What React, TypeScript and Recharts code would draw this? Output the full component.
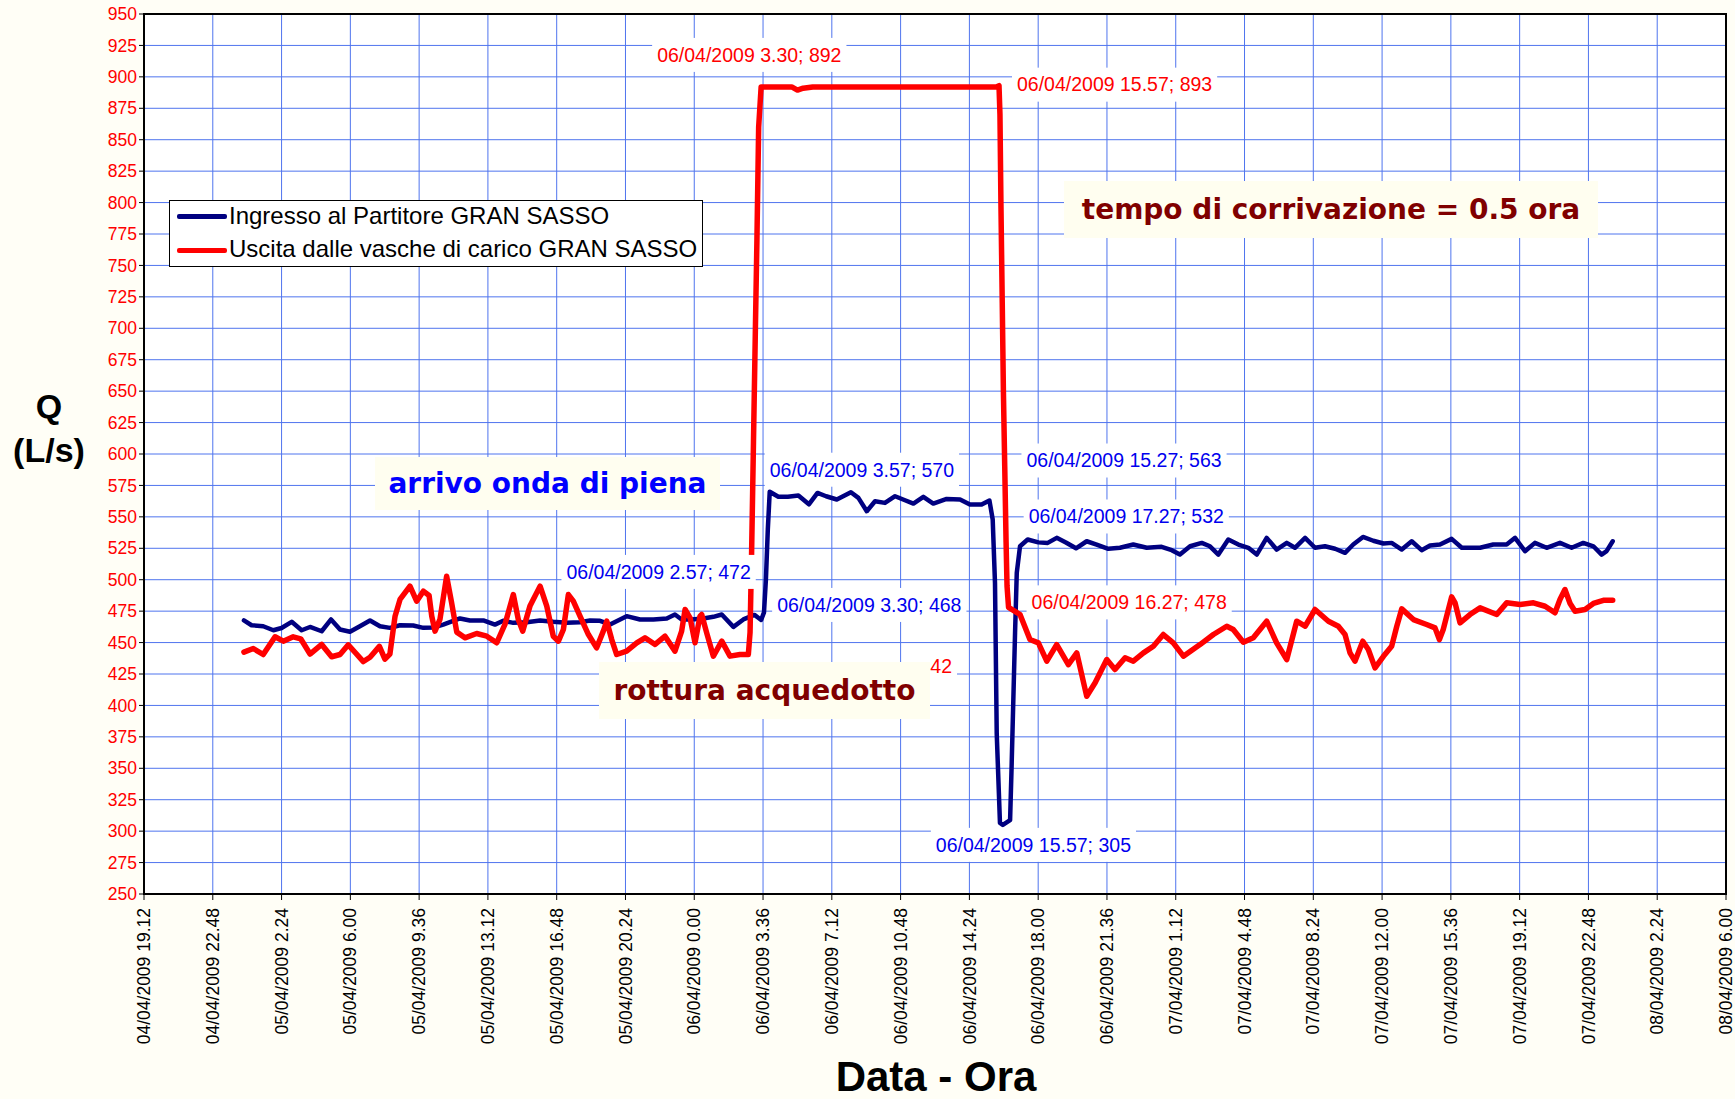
import React from 'react';
import { LineChart, Line, XAxis, YAxis, CartesianGrid, ReferenceDot, ReferenceArea } from 'recharts';

// hours elapsed since 04/04/2009 19.12
const xTickHours = [0, 3.6, 7.2, 10.8, 14.4, 18, 21.6, 25.2, 28.8, 32.4, 36, 39.6, 43.2, 46.8, 50.4, 54, 57.6, 61.2, 64.8, 68.4, 72, 75.6, 79.2, 82.8];
const xTickLabels = [
  '04/04/2009 19.12', '04/04/2009 22.48', '05/04/2009 2.24', '05/04/2009 6.00', '05/04/2009 9.36',
  '05/04/2009 13.12', '05/04/2009 16.48', '05/04/2009 20.24', '06/04/2009 0.00', '06/04/2009 3.36',
  '06/04/2009 7.12', '06/04/2009 10.48', '06/04/2009 14.24', '06/04/2009 18.00', '06/04/2009 21.36',
  '07/04/2009 1.12', '07/04/2009 4.48', '07/04/2009 8.24', '07/04/2009 12.00', '07/04/2009 15.36',
  '07/04/2009 19.12', '07/04/2009 22.48', '08/04/2009 2.24', '08/04/2009 6.00',
];
const yTicks = [250, 275, 300, 325, 350, 375, 400, 425, 450, 475, 500, 525, 550, 575, 600, 625, 650, 675, 700, 725, 750, 775, 800, 825, 850, 875, 900, 925, 950];

// Ingresso al Partitore GRAN SASSO
const blueHours = [5.23, 5.63, 6.24, 6.77, 7.2, 7.73, 8.25, 8.69, 9.3, 9.79, 10.26, 10.78, 11.3, 11.83, 12.35, 12.87, 13.4, 14.09, 14.62, 15.14, 15.66, 16.01, 16.54, 17.06, 17.76, 18.37, 18.8, 19.33, 20.03, 20.73, 21.42, 22.12, 22.82, 23.34, 23.87, 24.39, 25.26, 25.96, 26.66, 27.36, 27.79, 28.14, 28.66, 29.27, 29.8, 30.24, 30.85, 31.37, 31.95, 32.15, 32.3, 32.45, 32.55, 32.65, 32.75, 33.2, 33.7, 34.25, 34.8, 35.25, 35.7, 36.26, 37.0, 37.39, 37.83, 38.26, 38.78, 39.31, 39.83, 40.27, 40.79, 41.31, 42.01, 42.71, 43.23, 43.84, 44.25, 44.42, 44.54, 44.63, 44.8, 44.95, 45.33, 45.41, 45.5, 45.59, 45.68, 45.85, 46.25, 46.81, 47.3, 47.77, 48.25, 48.78, 49.34, 49.86, 50.47, 51.08, 51.78, 52.48, 53.26, 53.79, 54.22, 54.75, 55.36, 55.79, 56.23, 56.75, 57.28, 57.8, 58.24, 58.76, 59.28, 59.81, 60.24, 60.77, 61.29, 61.81, 62.34, 62.86, 63.29, 63.8, 64.34, 64.87, 65.3, 65.83, 66.35, 66.87, 67.31, 67.83, 68.44, 68.97, 69.4, 69.93, 70.62, 71.32, 71.76, 72.28, 72.8, 73.41, 74.11, 74.72, 75.33, 75.86, 76.29, 76.55, 76.87];
const blueFlow = [467.6, 463.8, 463, 459.8, 461.6, 466.5, 459.8, 462.4, 459, 468.4, 460.4, 458.6, 463, 467.6, 463, 461.7, 463.8, 463.6, 461.7, 462, 464.3, 466.2, 469.2, 467.6, 467.6, 464.3, 467.3, 465.7, 466.2, 467.6, 466.5, 465.7, 466.2, 467.6, 467.3, 464.4, 471, 468.4, 468.4, 469.2, 472.3, 468.4, 468.4, 469.2, 470.5, 472.3, 462.5, 468.4, 472, 469.7, 468, 474, 500, 540, 570, 566, 566, 567, 560, 569, 566.4, 563.8, 569.6, 565.1, 554.5, 562.4, 561.1, 566.4, 563.2, 560.6, 565.9, 560.6, 564.3, 563.8, 559.8, 559.8, 563, 547.9, 497.5, 378, 306.6, 305, 308.7, 351.6, 404.7, 457.8, 505.5, 526.6, 532, 529.7, 529.3, 533.3, 529.6, 525, 530.6, 528, 524.6, 525.4, 528, 525.4, 526.2, 523.5, 520, 526.6, 529.3, 526.6, 520, 532, 528, 525.4, 520, 533.3, 524, 529.3, 525.4, 533.3, 525.4, 526.6, 524.6, 521.4, 528, 534, 531, 528.8, 529.3, 524, 530.6, 523.5, 527.2, 528, 532.5, 525.4, 525.4, 525.4, 528, 528, 533.3, 522.7, 529.3, 525.4, 529.3, 525.4, 529.3, 526.6, 520, 522.7, 530.6];

// Uscita dalle vasche di carico GRAN SASSO
const redHours = [5.23, 5.72, 6.24, 6.86, 7.29, 7.81, 8.2, 8.69, 9.3, 9.82, 10.26, 10.69, 11.04, 11.48, 11.83, 12.32, 12.61, 12.87, 13.14, 13.4, 13.92, 14.27, 14.62, 14.92, 15.06, 15.23, 15.49, 15.84, 16.1, 16.37, 16.8, 17.41, 17.94, 18.46, 18.89, 19.33, 19.59, 19.82, 20.2, 20.73, 21.08, 21.42, 21.69, 21.95, 22.21, 22.47, 22.82, 23.26, 23.69, 24.04, 24.22, 24.48, 24.74, 25.26, 25.79, 26.22, 26.75, 27.27, 27.79, 28.14, 28.32, 28.58, 28.84, 29.1, 29.19, 29.45, 29.8, 30.24, 30.67, 31.19, 31.63, 31.72, 31.8, 31.9, 32.0, 32.08, 32.17, 32.3, 33.0, 33.9, 34.2, 34.5, 35.0, 37.0, 40.0, 43.0, 44.6, 44.75, 44.8, 44.85, 44.92, 44.98, 45.05, 45.12, 45.17, 45.25, 45.85, 46.37, 46.81, 47.25, 47.77, 48.38, 48.82, 49.34, 49.78, 50.39, 50.82, 51.35, 51.78, 52.31, 52.83, 53.35, 53.87, 54.4, 55.27, 55.97, 56.67, 57.01, 57.54, 58.06, 58.76, 59.28, 59.81, 60.33, 60.77, 61.29, 61.99, 62.51, 62.86, 63.12, 63.38, 63.79, 64.08, 64.43, 64.87, 65.3, 65.57, 65.83, 66.44, 67.13, 67.57, 67.8, 68.0, 68.44, 68.62, 68.88, 69.4, 69.93, 70.8, 71.32, 72.02, 72.72, 73.33, 73.85, 74.11, 74.37, 74.64, 74.9, 75.42, 75.86, 76.38, 76.87];
const redFlow = [442.4, 445.3, 440.5, 454.6, 451.1, 454.6, 453, 440.9, 448.5, 438.7, 440.5, 448.2, 442.3, 434.9, 438.3, 447, 436.8, 440.8, 471, 484.3, 494.9, 482.9, 490.9, 487.5, 471, 459.1, 468.4, 502.8, 481.6, 458.3, 453.8, 457.2, 455.1, 449.8, 464.4, 488.2, 468.4, 459.1, 479, 494.9, 479, 455.1, 451.1, 460.4, 488.2, 482.9, 471, 456.4, 445.8, 459.1, 467, 452.4, 440.5, 443.2, 449.8, 453.8, 448.5, 455.1, 443.2, 459.1, 476.3, 469.7, 449.8, 471, 472.3, 457.7, 439.2, 451.1, 439.2, 440.5, 440.5, 458, 520, 610, 700, 770, 860, 892, 892, 892, 889.5, 891, 892, 892, 892, 892, 892, 893, 870, 800, 720, 650, 590, 530, 495, 478, 472.3, 452.4, 449.8, 435.2, 448.4, 432.5, 441.8, 407.3, 418, 436.5, 428.6, 437.9, 435.2, 441.8, 447.1, 456.4, 449.8, 439.2, 448.4, 456.4, 463, 460.4, 450.3, 453.8, 467, 449.8, 436.5, 467, 463, 476.3, 467, 463, 456.4, 441.8, 435.2, 451.1, 444.5, 429.9, 439.1, 447, 463, 476.8, 468.3, 464.4, 461.7, 452.4, 460.4, 486.4, 481.6, 465.7, 472.3, 477.6, 472.3, 481.6, 480.3, 481.6, 478.9, 473.7, 484.2, 492.2, 481.1, 474.9, 476.3, 481.1, 483.6, 483.6];

// data labels: which point they belong to (the last one is mostly hidden in the original, only "42" shows)
const labelHours = [32.3, 44.75, 32.75, 44.25, 46.25, 31.95, 32.3, 45.25, 44.95, 31.63];
const labelFlow = [892, 893, 570, 563, 532, 472, 468, 478, 305, 440.5];
const labelTexts = [
  '06/04/2009 3.30; 892', '06/04/2009 15.57; 893', '06/04/2009 3.57; 570', '06/04/2009 15.27; 563',
  '06/04/2009 17.27; 532', '06/04/2009 2.57; 472', '06/04/2009 3.30; 468', '06/04/2009 16.27; 478',
  '06/04/2009 15.57; 305', '42',
];
const labelSeries = ['red', 'red', 'blue', 'blue', 'blue', 'blue', 'blue', 'red', 'blue', 'red'];

// layout of the labels (pixel offsets from their point)
const labelOffsets: [number, number][] = [
  [-104, -32], [18, -1], [0, -22], [37, -40], [1, -23], [-188, -43], [16, -15], [23, -5], [-67, 20], [182, 12],
];

const FONT = "'Liberation Sans', Arial, Helvetica, sans-serif";
const COMIC = "'Comic Sans MS', 'DejaVu Sans', sans-serif";
const LABEL_SIZE = 19.5;
const BLUE = '#000080';
const RED = '#FF0000';

const blueData = blueHours.map((h, i) => ({ h, q: blueFlow[i] }));
const redData = redHours.map((h, i) => ({ h, q: redFlow[i] }));

const charW = (c: string) => {
  if ('0123456789'.includes(c)) return 0.556;
  if ('/ .;:,'.includes(c)) return 0.278;
  return 0.556;
};
const textWidth = (s: string, size: number) => s.split('').reduce((a, c) => a + charW(c), 0) * size;

const XTick = (props: any) => {
  const { x, y, payload } = props;
  const idx = xTickHours.findIndex((t) => Math.abs(t - payload.value) < 1e-6);
  const label = idx >= 0 ? xTickLabels[idx] : '';
  return (
    <g transform={`translate(${x},${y})`}>
      <text transform="rotate(-90)" x={-6} y={0} dy="0.35em" textAnchor="end" fill="#000" fontSize={17.5} fontFamily={FONT}>
        {label}
      </text>
    </g>
  );
};

const makeLabelShape = (text: string, color: string, ox: number, oy: number) => (props: any) => {
  const { cx, cy } = props;
  if (cx == null || cy == null) return <g />;
  const w = textWidth(text, LABEL_SIZE);
  const left = cx + ox;
  const mid = cy + oy;
  return (
    <g>
      <rect x={left - 5} y={mid - 17} width={w + 10} height={34} fill="#ffffff" />
      <text x={left} y={mid} dy="0.35em" fill={color} fontSize={LABEL_SIZE} fontFamily={FONT}>
        {text}
      </text>
    </g>
  );
};

const boxStyle = (left: number, top: number, width: number, height: number, color: string): React.CSSProperties => ({
  position: 'absolute', left, top, width, height, background: '#FFFEF0', color,
  fontFamily: COMIC, fontWeight: 'bold', fontSize: 28, display: 'flex', alignItems: 'center', justifyContent: 'center',
  whiteSpace: 'nowrap',
});

export default function App() {
  return (
    <div style={{ position: 'absolute', left: 0, top: 0, width: 1735, height: 1099, background: '#FFFEF6', overflow: 'hidden' }}>
      <LineChart width={1735} height={1099} margin={{ top: 14, right: 9, bottom: 0, left: 0 }}>
        <CartesianGrid stroke="#4F74EE" strokeWidth={1} fill="#ffffff" />
        <XAxis
          type="number" dataKey="h" domain={[0, 82.8]} ticks={xTickHours} interval={0} allowDataOverflow
          height={205} tickSize={6} tick={<XTick />} axisLine={{ stroke: '#000', strokeWidth: 2 }} tickLine={{ stroke: '#000' }}
        />
        <YAxis
          type="number" dataKey="q" domain={[250, 950]} ticks={yTicks} interval={0} allowDataOverflow width={144}
          tickSize={5} tickMargin={2} tick={{ fill: RED, fontSize: 17.5, fontFamily: FONT }}
          axisLine={{ stroke: '#000', strokeWidth: 2 }} tickLine={{ stroke: '#000' }}
        />
        <Line data={blueData} dataKey="q" type="linear" stroke={BLUE} strokeWidth={4.5} dot={false} activeDot={false}
          isAnimationActive={false} strokeLinejoin="round" strokeLinecap="round" />
        <Line data={redData} dataKey="q" type="linear" stroke={RED} strokeWidth={5.5} dot={false} activeDot={false}
          isAnimationActive={false} strokeLinejoin="round" strokeLinecap="round" />
        <ReferenceArea x1={0} x2={82.8} y1={250} y2={950} fill="none" stroke="#000" strokeWidth={2} ifOverflow="visible" />
        {labelHours.map((h, i) => (
          <ReferenceDot
            key={i} x={h} y={labelFlow[i]} r={1} ifOverflow="visible"
            shape={makeLabelShape(labelTexts[i], labelSeries[i] === 'red' ? RED : '#0000EE', labelOffsets[i][0], labelOffsets[i][1])}
          />
        ))}
      </LineChart>

      {/* axis titles */}
      <div style={{ position: 'absolute', left: 0, top: 384, width: 98, textAlign: 'center', fontFamily: FONT, fontWeight: 'bold', fontSize: 34, lineHeight: '44px', color: '#000' }}>
        Q<br />(L/s)
      </div>
      <div style={{ position: 'absolute', left: 736, top: 1056, width: 400, textAlign: 'center', fontFamily: FONT, fontWeight: 'bold', fontSize: 42, lineHeight: '42px', color: '#000' }}>
        Data - Ora
      </div>

      {/* legend */}
      <div style={{ position: 'absolute', left: 169, top: 200, width: 534, height: 67, boxSizing: 'border-box', border: '1.5px solid #000', background: '#fff', fontFamily: FONT, fontSize: 24, color: '#000' }}>
        <div style={{ position: 'absolute', left: 7, top: 13, width: 50, height: 4.5, background: BLUE, borderRadius: 2 }} />
        <div style={{ position: 'absolute', left: 59, top: 1, lineHeight: '28px', whiteSpace: 'nowrap' }}>Ingresso al Partitore GRAN SASSO</div>
        <div style={{ position: 'absolute', left: 7, top: 47, width: 50, height: 4.5, background: RED, borderRadius: 2 }} />
        <div style={{ position: 'absolute', left: 59, top: 34, lineHeight: '28px', whiteSpace: 'nowrap' }}>Uscita dalle vasche di carico GRAN SASSO</div>
      </div>

      {/* annotations */}
      <div style={boxStyle(1064, 181, 534, 57, '#800000')}>tempo di corrivazione = 0.5 ora</div>
      <div style={boxStyle(375, 457, 345, 53, '#0000FF')}>arrivo onda di piena</div>
      <div style={boxStyle(599, 662, 331, 57, '#800000')}>rottura acquedotto</div>
    </div>
  );
}
